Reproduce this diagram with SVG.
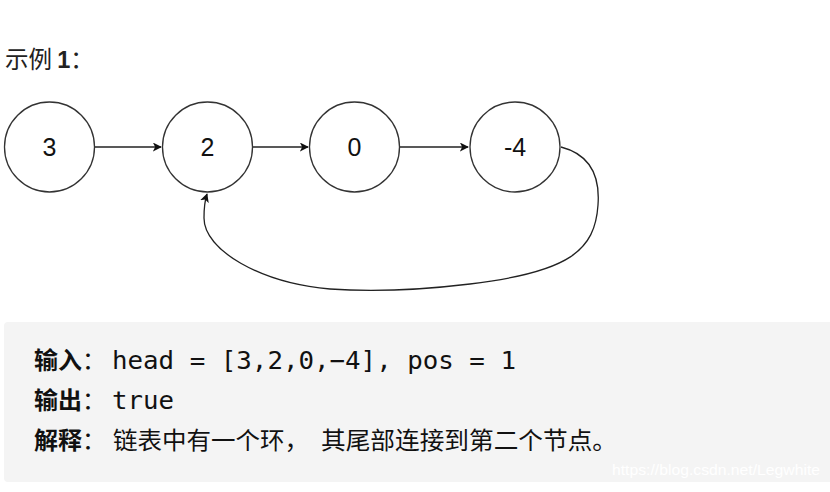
<svg xmlns="http://www.w3.org/2000/svg" width="830" height="492" viewBox="0 0 830 492">
<style>
.node circle{fill:#fff;stroke:#333;stroke-width:1.3}
.node text{font-family:"Liberation Sans",Arial,sans-serif;font-size:25px;fill:#111;text-anchor:middle}
.edge{fill:none;stroke:#222;stroke-width:1.3}
.cjk{font-family:"Noto Sans CJK SC","Noto Sans",sans-serif;font-size:24px;fill:#111}
.b{font-weight:bold}
.n{font-weight:normal}
.mono{font-family:"DejaVu Sans Mono","Liberation Mono",monospace;font-size:25px;fill:#111}
</style>
<defs>
<marker id="ah" viewBox="0 0 10 10" refX="9" refY="5" markerWidth="9" markerHeight="9" markerUnits="userSpaceOnUse" orient="auto">
<path d="M0,0 L10,5 L0,10 L2.5,5 Z" fill="#111"/>
</marker>
</defs>
<rect width="830" height="492" fill="#fff"/>
<text x="5" y="68" class="cjk" style="font-size:23.5px;fill:#222">示例 <tspan class="b" font-family="Liberation Sans,sans-serif">1</tspan>：</text>

<g id="edges">
<line class="edge" x1="95" y1="147" x2="161" y2="147" marker-end="url(#ah)"/>
<line class="edge" x1="253" y1="147" x2="308" y2="147" marker-end="url(#ah)"/>
<line class="edge" x1="400" y1="147" x2="468" y2="147" marker-end="url(#ah)"/>
<path class="edge" d="M561,147 C592,155 600,178 598,205 C595,250 570,272 470,284 C420,290 370,292 330,289 C260,283 204,250 204,218 C204,208 205,200 207,194" marker-end="url(#ah)"/>
</g>

<g id="n3" class="node"><circle cx="49.5" cy="147" r="45"/><text x="49.5" y="156">3</text></g>
<g id="n2" class="node"><circle cx="207.5" cy="147" r="45"/><text x="207.5" y="156">2</text></g>
<g id="n0" class="node"><circle cx="354.5" cy="147" r="45"/><text x="354.5" y="156">0</text></g>
<g id="n4" class="node"><circle cx="515" cy="147" r="45"/><text x="515" y="156">-4</text></g>

<rect x="4" y="322" width="830" height="160" rx="4" fill="#f4f4f4"/>
<text x="34" y="369" class="cjk b">输入<tspan class="n">：</tspan></text>
<text x="112" y="369" class="mono" textLength="404" lengthAdjust="spacingAndGlyphs">head = [3,2,0,−4], pos = 1</text>
<text x="34" y="409" class="cjk b">输出<tspan class="n">：</tspan></text>
<text x="112" y="409" class="mono" textLength="62" lengthAdjust="spacingAndGlyphs">true</text>
<text x="34" y="449" class="cjk b">解释<tspan class="n">：</tspan></text>
<text x="113" y="449" class="cjk" textLength="196" lengthAdjust="spacingAndGlyphs">链表中有一个环，</text>
<text x="321" y="449" class="cjk" textLength="296" lengthAdjust="spacingAndGlyphs">其尾部连接到第二个节点。</text>
<text x="612" y="475" font-family="Liberation Sans,Arial,sans-serif" font-size="15" fill="#fff" textLength="208" lengthAdjust="spacingAndGlyphs">https://blog.csdn.net/Legwhite</text>
</svg>
